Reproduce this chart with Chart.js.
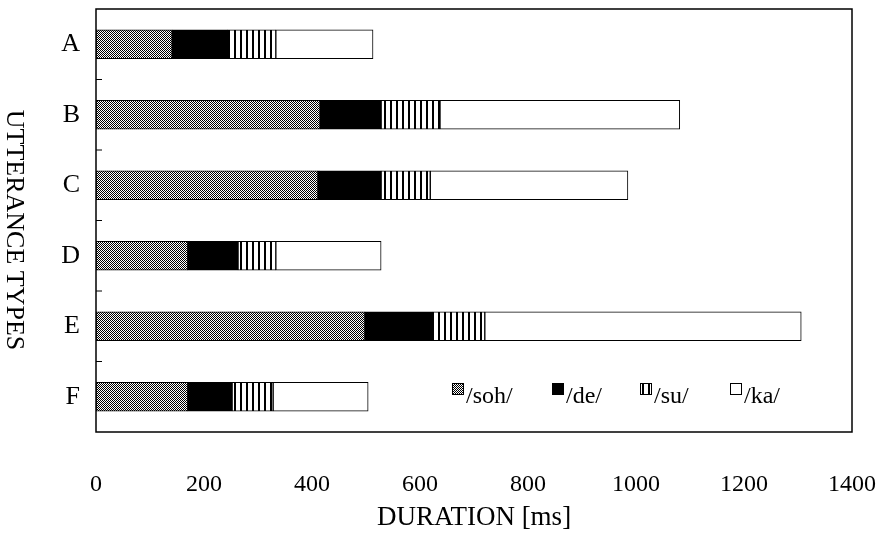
<!DOCTYPE html>
<html>
<head>
<meta charset="utf-8">
<script src="https://cdn.jsdelivr.net/npm/chart.js@4"></script>
<style>
  body { margin: 0; background: #fff; }
  #wrap { width: 879px; height: 535px; position: relative; }
</style>
</head>
<body>
<div id="wrap"><canvas id="durChart"></canvas></div>
<script>
// utterance types and syllable durations (ms)
const types = ['A', 'B', 'C', 'D', 'E', 'F'];
const soh = [141, 415, 411, 170, 498, 170];
const de  = [103, 113, 117,  93, 126,  82];
const su  = [ 89, 109,  91,  70,  96,  76];
const ka  = [180, 444, 366, 195, 586, 176];
const syllables = ['/soh/', '/de/', '/su/', '/ka/'];
const xTicks = [0, 200, 400, 600, 800, 1000, 1200, 1400];

const SERIF = '"Liberation Serif", "DejaVu Serif", serif';

function makePattern(w, h, paint) {
    const c = document.createElement('canvas');
    c.width = w; c.height = h;
    const g = c.getContext('2d');
    g.fillStyle = '#fff';
    g.fillRect(0, 0, w, h);
    g.fillStyle = '#000';
    paint(g);
    return g.createPattern(c, 'repeat');
}

const ctx = document.getElementById('durChart').getContext('2d');
const checker = makePattern(2, 2, g => { g.fillRect(0, 0, 1, 1); g.fillRect(1, 1, 1, 1); });
const stripes = makePattern(6, 1, g => { g.fillRect(0, 0, 2, 1); });
const fills = [checker, '#000', stripes, '#fff'];

// frame, inward y ticks, rotated y title and the in-plot legend
const extras = {
    id: 'extras',
    afterDraw(chart) {
        const a = chart.chartArea;
        const y = chart.scales.y;
        const c = chart.ctx;
        c.save();
        c.strokeStyle = '#000';
        c.lineWidth = 1.5;
        c.strokeRect(a.left, a.top, a.right - a.left, a.bottom - a.top);

        c.lineWidth = 1;
        for (let i = 1; i < types.length; i++) {
            const ty = (y.getPixelForValue(i - 1) + y.getPixelForValue(i)) / 2;
            c.beginPath();
            c.moveTo(a.left, ty);
            c.lineTo(a.left + 6, ty);
            c.stroke();
        }

        c.fillStyle = '#000';
        c.font = '26px ' + SERIF;
        c.textAlign = 'center';
        c.textBaseline = 'middle';
        c.translate(14, 230);
        c.rotate(Math.PI / 2);
        c.fillText('UTTERANCE TYPES', 0, 0);
        c.restore();

        c.save();
        c.font = '24px ' + SERIF;
        c.textBaseline = 'alphabetic';
        const boxX = [356, 456, 544, 634];
        chart.data.datasets.forEach((ds, i) => {
            const bx = a.left + boxX[i];
            c.fillStyle = ds.backgroundColor;
            c.fillRect(bx, 383, 12, 12);
            c.strokeStyle = '#000';
            c.lineWidth = 1;
            c.strokeRect(bx + 0.5, 383.5, 11, 11);
            c.fillStyle = '#000';
            c.fillText(ds.label, bx + 14, 403);
        });
        c.restore();
    }
};

function noOverhang(scale) {
    scale.paddingLeft = 0;
    scale.paddingRight = 0;
    scale.paddingTop = 0;
    scale.paddingBottom = 0;
}

new Chart(ctx, {
    type: 'bar',
    data: {
        labels: types,
        datasets: [soh, de, su, ka].map((vals, i) => ({
            label: syllables[i],
            data: vals,
            backgroundColor: fills[i],
            borderColor: '#000',
            borderWidth: 1,
            borderSkipped: false,
            barThickness: 29
        }))
    },
    options: {
        indexAxis: 'y',
        responsive: true,
        maintainAspectRatio: false,
        animation: false,
        layout: { padding: { left: 0, right: 27, top: 9, bottom: 0 } },
        plugins: {
            legend: { display: false },
            tooltip: { enabled: false }
        },
        scales: {
            x: {
                stacked: true,
                min: 0,
                max: 1400,
                afterBuildTicks: scale => { scale.ticks = xTicks.map(v => ({ value: v })); },
                afterFit: scale => { scale.height = 103; noOverhang(scale); },
                grid: { display: false, drawTicks: false },
                border: { display: false },
                ticks: {
                    padding: 38,
                    color: '#000',
                    maxRotation: 0,
                    callback: v => String(v),
                    font: { family: SERIF, size: 24 }
                },
                title: {
                    display: true,
                    text: 'DURATION [ms]',
                    color: '#000',
                    padding: { top: 0, bottom: 1 },
                    font: { family: SERIF, size: 27 }
                }
            },
            y: {
                stacked: true,
                afterFit: scale => { scale.width = 96; noOverhang(scale); },
                grid: { display: false, drawTicks: false },
                border: { display: false },
                ticks: {
                    padding: 16,
                    color: '#000',
                    font: { family: SERIF, size: 26 }
                }
            }
        }
    },
    plugins: [extras]
});
</script>
</body>
</html>
